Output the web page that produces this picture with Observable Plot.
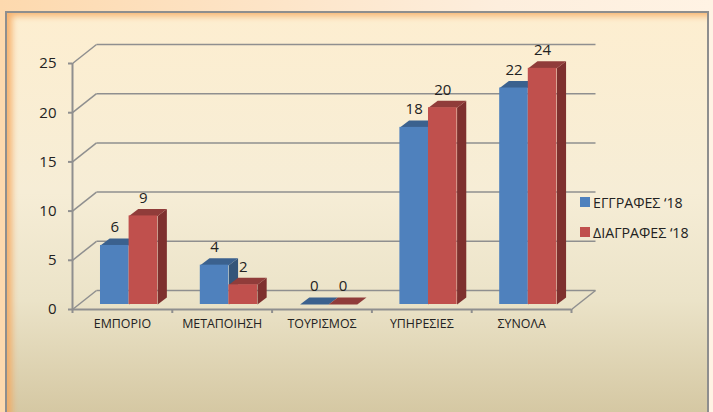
<!DOCTYPE html>
<html><head><meta charset="utf-8">
<script src="https://cdn.jsdelivr.net/npm/d3@7"></script>
<script src="https://cdn.jsdelivr.net/npm/@observablehq/plot@0.6"></script>
<style>
html,body{margin:0;padding:0;width:713px;height:412px;overflow:hidden;background:#fff6ec}
#top{position:absolute;left:0;top:0;width:713px;height:412px;background:linear-gradient(90deg,#fdd9ae,#fdeedd 70%,#fff3e4)}
#panel{position:absolute;left:5px;top:11px;width:704px;height:401px;box-sizing:border-box;border:2px solid #8e8e8e;border-bottom:0;
background:linear-gradient(180deg,#fdeed0 0%,#f6edd6 45%,#ebe3c8 72%,#d5c8a3 100%);box-shadow:inset 7px 5px 6px -2px rgba(245,165,90,.8)}
#chart{position:absolute;left:0;top:0}
#legend{position:absolute;left:580px;top:187px;font:14.2px "Open Sans",sans-serif;color:#222}
#legend div{display:flex;align-items:center;height:30px;white-space:nowrap}
#legend i{display:inline-block;width:10px;height:10px;margin-right:3px}
</style></head><body>
<div id="top"></div><div id="panel"></div><div id="chart"></div>
<div id="legend"></div>
<script>
const categories = ["ΕΜΠΟΡΙΟ","ΜΕΤΑΠΟΙΗΣΗ","ΤΟΥΡΙΣΜΟΣ","ΥΠΗΡΕΣΙΕΣ","ΣΥΝΟΛΑ"];
const eggrafes = [6,4,0,18,22];
const diagrafes = [9,2,0,20,24];
const seriesNames = ["ΕΓΓΡΑΦΕΣ ‘18","ΔΙΑΓΡΑΦΕΣ ‘18"];
const yTicks = [0,5,10,15,20,25];

const palette = {
  front:["#4f81bd","#c0504d"],
  top:["#3b618e","#903c3a"],
  side:["#345579","#7e302e"]
};
// projection constants of the pseudo-3D box, in data units
const wallDX = 0.2405, wallDY = 1.93;   // depth of the chart floor
const barDX0 = 0.067, barDY0 = 0.508;   // where bars stand on the floor
const barDX = 0.0921, barDY = 0.711;    // depth of a bar
const barW = 0.2865;

const fronts=[], polys=[], labels=[];
[eggrafes,diagrafes].forEach((vals,s)=>{
  vals.forEach((v,i)=>{
    const x1=i+.5+barDX0+(s-1)*barW, x2=x1+barW, y0=barDY0, y1=v+barDY0;
    polys.push({id:`side${s}-${i}`,s,fill:palette.side[s],pts:[[x2,y0],[x2+barDX,y0+barDY],[x2+barDX,y1+barDY],[x2,y1]]});
    polys.push({id:`top${s}-${i}`,s,fill:palette.top[s],pts:[[x1,y1],[x1+barDX,y1+barDY],[x2+barDX,y1+barDY],[x2,y1]]});
    fronts.push({s,x1,x2,y0,y1,fill:palette.front[s]});
    labels.push({x:(x1+x2)/2,y:y1,v});
  });
});
const polyRows = s => polys.filter(p=>p.s===s).flatMap(p=>p.pts.map(([x,y])=>({x,y,id:p.id,fill:p.fill})));
const polyMark = s => Plot.line(polyRows(s),{x:"x",y:"y",z:"id",fill:"fill",stroke:null,curve:"linear"});
const frontMark = s => Plot.rect(fronts.filter(f=>f.s===s),{x1:"x1",x2:"x2",y1:"y0",y2:"y1",fill:"fill"});

const gridColor="#8f8f8f";
const n=categories.length;
const plot = Plot.plot({
  width:713,height:412,
  marginLeft:72,marginRight:142,marginTop:63,marginBottom:103,
  style:{background:"transparent",overflow:"visible"},
  x:{type:"linear",domain:[0,n],axis:null},
  y:{type:"linear",domain:[0,25],axis:null},
  marks:[
    Plot.link(yTicks,{x1:wallDX,x2:n+wallDX,y1:d=>d+wallDY,y2:d=>d+wallDY,stroke:gridColor,strokeWidth:1.5}),
    Plot.link(yTicks,{x1:0,x2:wallDX,y1:d=>d,y2:d=>d+wallDY,stroke:gridColor,strokeWidth:1.5}),
    Plot.link([0],{x1:n,x2:n+wallDX,y1:0,y2:wallDY,stroke:gridColor,strokeWidth:1.5}),
    polyMark(0),frontMark(0),polyMark(1),frontMark(1),
    Plot.text(labels,{x:"x",y:"y",text:"v",dy:-18,fontSize:15,fill:"#222",fontFamily:"Open Sans"}),
    Plot.ruleX([0],{stroke:gridColor,strokeWidth:2}),
    Plot.ruleY([0],{stroke:gridColor,strokeWidth:2}),
    Plot.axisY({ticks:yTicks,tickSize:4,tickPadding:12,label:null,fontSize:15,color:"#222",stroke:gridColor,strokeWidth:2,fontFamily:"Open Sans",tickFormat:d=>d}),
    Plot.axisX({ticks:d3.range(n+1),tickSize:4,tickFormat:()=>"",label:null,stroke:gridColor,strokeWidth:2}),
    Plot.axisX({ticks:categories.map((c,i)=>i+.5),tickSize:0,tickPadding:10,tickFormat:d=>categories[d-.5],label:null,fontSize:12.4,color:"#222",fontFamily:"Open Sans"})
  ]
});
document.getElementById("chart").appendChild(plot);
const lg=document.getElementById("legend");
seriesNames.forEach((name,s)=>{
  const row=document.createElement("div");
  const sw=document.createElement("i");sw.style.background=palette.front[s];
  row.appendChild(sw);row.appendChild(document.createTextNode(name));
  lg.appendChild(row);
});
</script></body></html>
